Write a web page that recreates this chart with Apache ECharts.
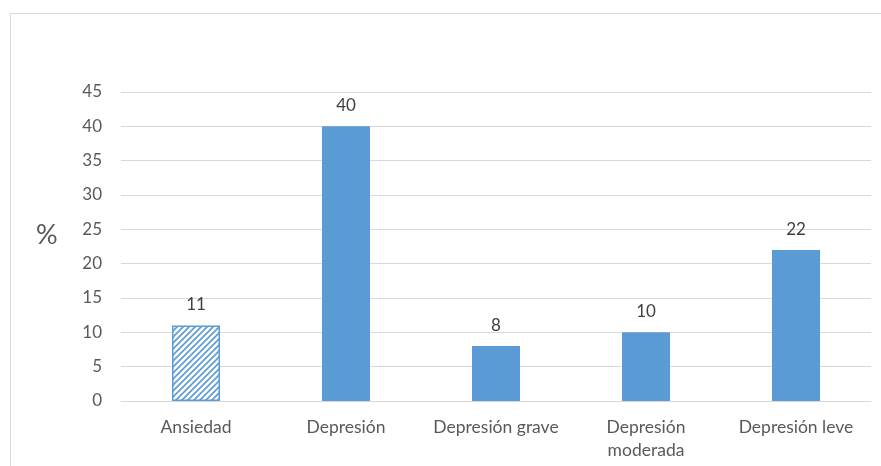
<!DOCTYPE html>
<html>
<head>
<meta charset="utf-8">
<script src="https://cdn.jsdelivr.net/npm/echarts@6/dist/echarts.min.js"></script>
<style>
  html, body { margin: 0; padding: 0; background: #ffffff; }
  #chart { width: 881px; height: 466px; }
</style>
</head>
<body>
<div id="chart"></div>
<script>
// Categories and percentages
const categories = ['Ansiedad', 'Depresión', 'Depresión grave', 'Depresión\nmoderada', 'Depresión leve'];
const values = [11, 40, 8, 10, 22];
const yTicks = { min: 0, max: 45, step: 5 };

const BLUE = '#5b9bd5';
const TEXT = '#595959';
const FONT = 'Lato, "Open Sans", sans-serif';

// Diagonal hatch used for the "Ansiedad" bar
function hatchPattern() {
  const s = 6;
  const c = document.createElement('canvas');
  c.width = s; c.height = s;
  const g = c.getContext('2d');
  g.fillStyle = '#ffffff';
  g.fillRect(0, 0, s, s);
  g.strokeStyle = BLUE;
  g.lineWidth = 1.6;
  g.beginPath();
  g.moveTo(-1, s + 1); g.lineTo(s + 1, -1);
  g.moveTo(-1, 1); g.lineTo(1, -1);
  g.moveTo(s - 1, s + 1); g.lineTo(s + 1, s - 1);
  g.stroke();
  return { image: c, repeat: 'repeat' };
}

const barData = values.map((v, i) => i === 0
  ? { value: v, itemStyle: { color: hatchPattern(), borderColor: BLUE, borderWidth: 1.5 } }
  : { value: v, itemStyle: { color: BLUE } });

const chart = echarts.init(document.getElementById('chart'), null, { renderer: 'canvas' });
chart.setOption({
  animation: false,
  backgroundColor: '#ffffff',
  textStyle: { fontFamily: FONT },
  graphic: [
    { type: 'rect', shape: { x: 10.5, y: 13.5, width: 900, height: 500 },
      style: { fill: 'none', stroke: '#d9d9d9', lineWidth: 1 }, silent: true },
    { type: 'text', left: 36, top: 222,
      style: { text: '%', fill: TEXT, font: '27px ' + FONT } }
  ],
  grid: { left: 121, right: 10, top: 92, bottom: 65 },
  xAxis: {
    type: 'category',
    data: categories,
    axisLine: { show: true, lineStyle: { color: '#d9d9d9', width: 1 } },
    axisTick: { show: false },
    axisLabel: { color: TEXT, fontSize: 17.5, fontFamily: FONT, margin: 15, lineHeight: 23, interval: 0 }
  },
  yAxis: {
    type: 'value',
    min: yTicks.min, max: yTicks.max, interval: yTicks.step,
    axisLine: { show: false },
    axisTick: { show: false },
    splitLine: { lineStyle: { color: '#d9d9d9', width: 1 } },
    axisLabel: { color: TEXT, fontSize: 17, fontFamily: FONT, margin: 19 }
  },
  series: [{
    type: 'bar',
    data: barData,
    barWidth: '32%',
    label: {
      show: true, position: 'top', distance: 12,
      color: '#404040', fontSize: 17, fontFamily: FONT
    }
  }]
});
</script>
</body>
</html>
